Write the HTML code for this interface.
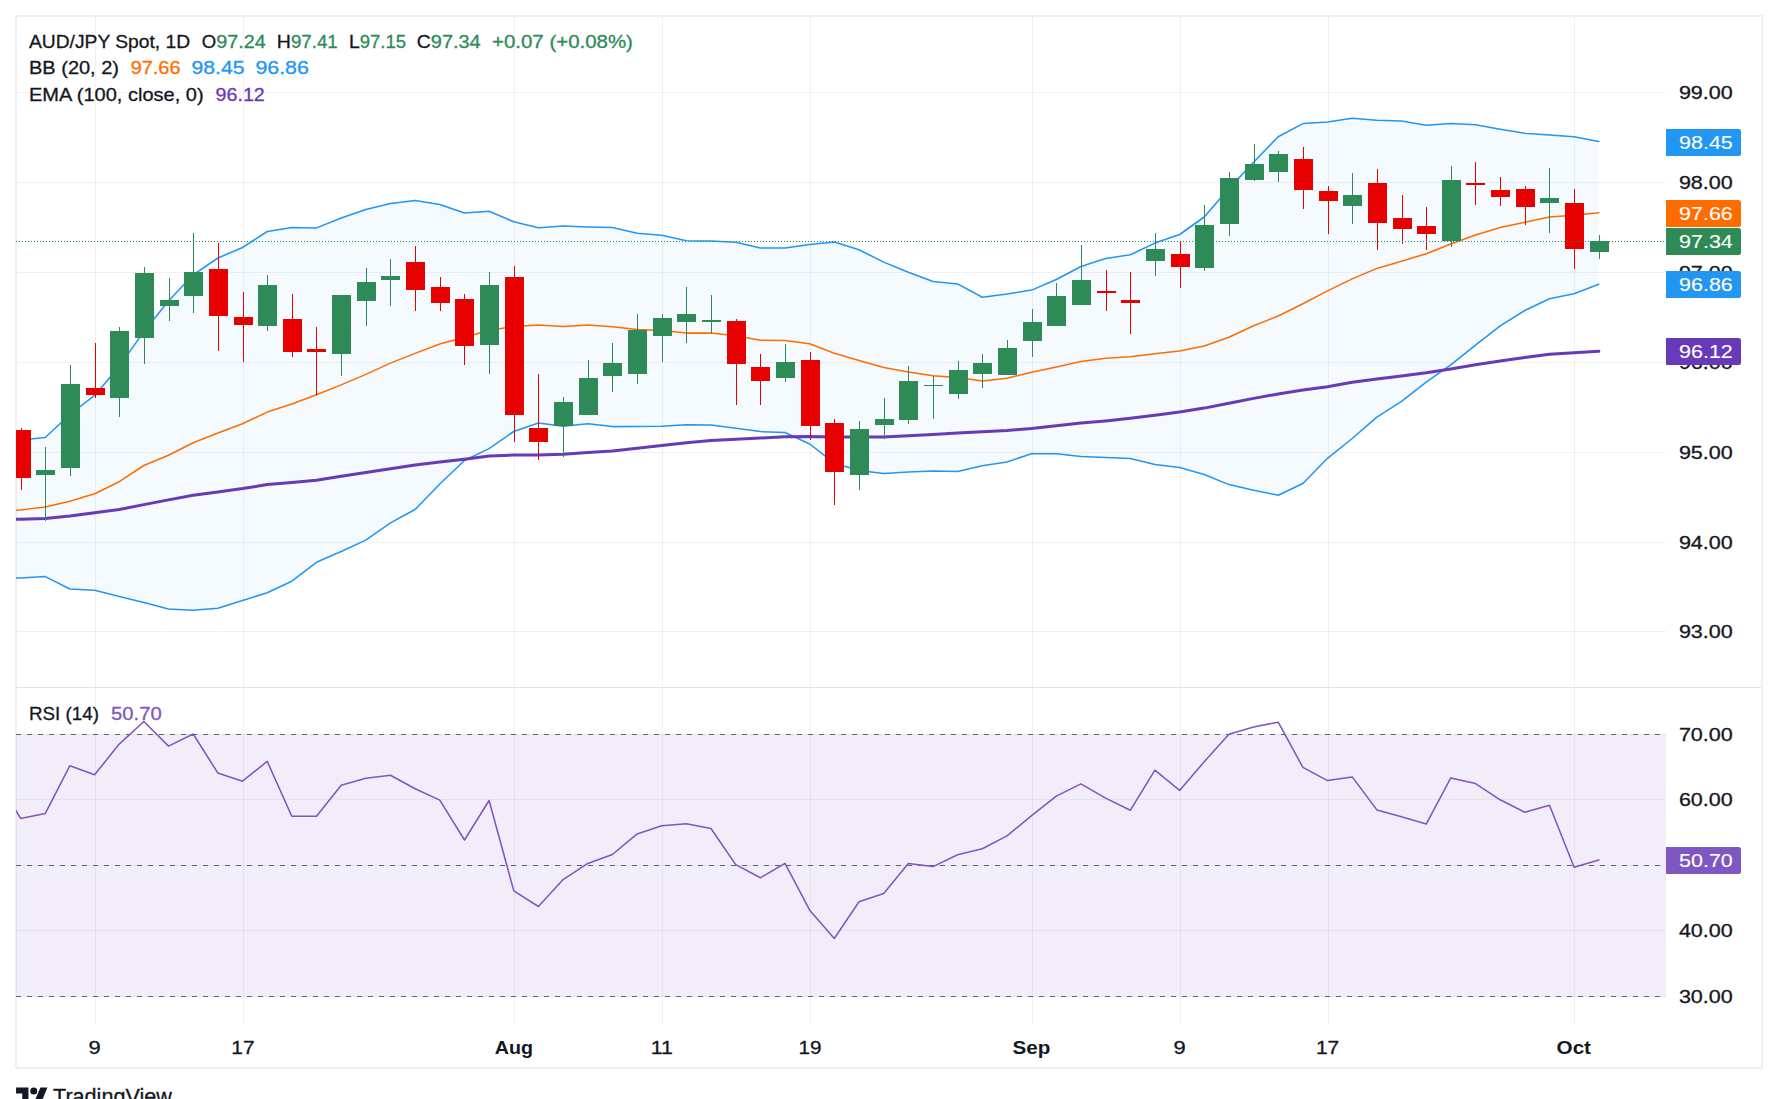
<!DOCTYPE html>
<html lang="en"><head><meta charset="utf-8"><title>AUD/JPY Spot, 1D</title>
<style>html,body{margin:0;padding:0;background:#fff;}body{width:1778px;height:1099px;overflow:hidden;}svg{display:block;}text{font-family:"Liberation Sans",sans-serif;}</style>
</head><body>
<svg width="1778" height="1099" viewBox="0 0 1778 1099">
<defs><clipPath id="cm"><rect x="16" y="17" width="1650" height="670"/></clipPath><clipPath id="cr"><rect x="16" y="688" width="1650" height="336"/></clipPath></defs>
<rect x="0" y="0" width="1778" height="1099" fill="#ffffff"/>
<rect x="16" y="16" width="1746" height="1052" fill="none" stroke="#eef0f6" stroke-width="2"/>
<g fill="#2a2e39" fill-opacity="0.065" shape-rendering="crispEdges">
<rect x="95" y="17" width="1" height="1007"/>
<rect x="243" y="17" width="1" height="1007"/>
<rect x="514" y="17" width="1" height="1007"/>
<rect x="662" y="17" width="1" height="1007"/>
<rect x="810" y="17" width="1" height="1007"/>
<rect x="1032" y="17" width="1" height="1007"/>
<rect x="1180" y="17" width="1" height="1007"/>
<rect x="1328" y="17" width="1" height="1007"/>
<rect x="1574" y="17" width="1" height="1007"/>
<rect x="16" y="92" width="1650" height="1"/>
<rect x="16" y="182" width="1650" height="1"/>
<rect x="16" y="272" width="1650" height="1"/>
<rect x="16" y="362" width="1650" height="1"/>
<rect x="16" y="452" width="1650" height="1"/>
<rect x="16" y="542" width="1650" height="1"/>
<rect x="16" y="631" width="1650" height="1"/>
<rect x="16" y="734" width="1650" height="1"/>
<rect x="16" y="799" width="1650" height="1"/>
<rect x="16" y="865" width="1650" height="1"/>
<rect x="16" y="930" width="1650" height="1"/>
<rect x="16" y="996" width="1650" height="1"/>
</g>
<g clip-path="url(#cm)">
<polygon points="-4.1,442.5 20.6,440.0 45.2,437.5 69.9,414.5 94.6,395.4 119.2,366.6 143.9,331.4 168.5,301.0 193.2,274.8 217.9,258.0 242.5,247.5 267.2,231.5 291.8,227.4 316.5,227.9 341.2,218.0 365.8,209.4 390.5,203.6 415.1,200.4 439.8,204.5 464.5,213.0 489.1,211.2 513.8,221.8 538.4,227.7 563.1,226.1 587.8,227.0 612.4,227.4 637.1,233.3 661.7,235.2 686.4,240.8 711.0,241.0 735.7,242.3 760.4,247.9 785.0,247.9 809.7,244.6 834.3,241.9 859.0,249.7 883.7,262.1 908.3,272.2 933.0,281.4 957.6,283.9 982.3,297.3 1007.0,294.0 1031.6,290.1 1056.3,279.5 1080.9,266.5 1105.6,258.6 1130.3,254.8 1154.9,243.1 1179.6,234.5 1204.2,217.0 1228.9,188.6 1253.6,162.3 1278.2,136.7 1302.9,123.6 1327.5,122.0 1352.2,118.2 1376.9,120.3 1401.5,121.0 1426.2,125.2 1450.8,123.4 1475.5,124.7 1500.2,129.2 1524.8,133.3 1549.5,134.9 1574.1,136.7 1598.8,141.4 1598.8,284.3 1574.1,293.8 1549.5,298.8 1524.8,310.5 1500.2,325.8 1475.5,345.1 1450.8,364.9 1426.2,382.2 1401.5,401.3 1376.9,417.1 1352.2,438.5 1327.5,458.3 1302.9,483.5 1278.2,495.2 1253.6,490.2 1228.9,484.6 1204.2,474.5 1179.6,467.5 1154.9,464.4 1130.3,458.5 1105.6,457.6 1080.9,456.5 1056.3,453.7 1031.6,453.7 1007.0,461.9 982.3,465.7 957.6,471.4 933.0,470.9 908.3,472.0 883.7,473.6 859.0,470.5 834.3,463.2 809.7,444.0 785.0,432.5 760.4,431.6 735.7,428.2 711.0,425.0 686.4,424.8 661.7,426.2 637.1,426.5 612.4,426.6 587.8,423.7 563.1,426.3 538.4,423.0 513.8,431.5 489.1,448.6 464.5,460.5 439.8,484.0 415.1,509.5 390.5,522.9 365.8,540.1 341.2,551.5 316.5,562.3 291.8,581.2 267.2,592.7 242.5,600.5 217.9,608.2 193.2,610.3 168.5,608.9 143.9,602.4 119.2,596.5 94.6,590.3 69.9,589.0 45.2,576.6 20.6,577.9 -4.1,578.5" fill="#2196f3" fill-opacity="0.05"/>
<polyline points="-4.1,442.5 20.6,440.0 45.2,437.5 69.9,414.5 94.6,395.4 119.2,366.6 143.9,331.4 168.5,301.0 193.2,274.8 217.9,258.0 242.5,247.5 267.2,231.5 291.8,227.4 316.5,227.9 341.2,218.0 365.8,209.4 390.5,203.6 415.1,200.4 439.8,204.5 464.5,213.0 489.1,211.2 513.8,221.8 538.4,227.7 563.1,226.1 587.8,227.0 612.4,227.4 637.1,233.3 661.7,235.2 686.4,240.8 711.0,241.0 735.7,242.3 760.4,247.9 785.0,247.9 809.7,244.6 834.3,241.9 859.0,249.7 883.7,262.1 908.3,272.2 933.0,281.4 957.6,283.9 982.3,297.3 1007.0,294.0 1031.6,290.1 1056.3,279.5 1080.9,266.5 1105.6,258.6 1130.3,254.8 1154.9,243.1 1179.6,234.5 1204.2,217.0 1228.9,188.6 1253.6,162.3 1278.2,136.7 1302.9,123.6 1327.5,122.0 1352.2,118.2 1376.9,120.3 1401.5,121.0 1426.2,125.2 1450.8,123.4 1475.5,124.7 1500.2,129.2 1524.8,133.3 1549.5,134.9 1574.1,136.7 1598.8,141.4" fill="none" stroke="#2196f3" stroke-width="1.55" stroke-linejoin="round" stroke-linecap="round"/>
<polyline points="-4.1,578.5 20.6,577.9 45.2,576.6 69.9,589.0 94.6,590.3 119.2,596.5 143.9,602.4 168.5,608.9 193.2,610.3 217.9,608.2 242.5,600.5 267.2,592.7 291.8,581.2 316.5,562.3 341.2,551.5 365.8,540.1 390.5,522.9 415.1,509.5 439.8,484.0 464.5,460.5 489.1,448.6 513.8,431.5 538.4,423.0 563.1,426.3 587.8,423.7 612.4,426.6 637.1,426.5 661.7,426.2 686.4,424.8 711.0,425.0 735.7,428.2 760.4,431.6 785.0,432.5 809.7,444.0 834.3,463.2 859.0,470.5 883.7,473.6 908.3,472.0 933.0,470.9 957.6,471.4 982.3,465.7 1007.0,461.9 1031.6,453.7 1056.3,453.7 1080.9,456.5 1105.6,457.6 1130.3,458.5 1154.9,464.4 1179.6,467.5 1204.2,474.5 1228.9,484.6 1253.6,490.2 1278.2,495.2 1302.9,483.5 1327.5,458.3 1352.2,438.5 1376.9,417.1 1401.5,401.3 1426.2,382.2 1450.8,364.9 1475.5,345.1 1500.2,325.8 1524.8,310.5 1549.5,298.8 1574.1,293.8 1598.8,284.3" fill="none" stroke="#2196f3" stroke-width="1.55" stroke-linejoin="round" stroke-linecap="round"/>
<polyline points="-4.1,511.0 20.6,510.0 45.2,506.9 69.9,501.3 94.6,493.7 119.2,481.7 143.9,465.5 168.5,455.3 193.2,442.7 217.9,433.0 242.5,423.8 267.2,412.1 291.8,404.1 316.5,394.8 341.2,384.9 365.8,374.4 390.5,363.1 415.1,353.4 439.8,344.0 464.5,337.2 489.1,330.5 513.8,326.4 538.4,325.1 563.1,326.4 587.8,325.1 612.4,326.7 637.1,329.6 661.7,330.6 686.4,333.1 711.0,333.0 735.7,335.7 760.4,340.2 785.0,340.4 809.7,343.8 834.3,353.2 859.0,360.4 883.7,367.6 908.3,371.9 933.0,375.7 957.6,377.5 982.3,381.1 1007.0,378.2 1031.6,372.2 1056.3,366.9 1080.9,361.5 1105.6,358.2 1130.3,356.8 1154.9,353.7 1179.6,351.0 1204.2,346.0 1228.9,337.2 1253.6,325.8 1278.2,316.0 1302.9,303.7 1327.5,290.9 1352.2,278.9 1376.9,268.4 1401.5,261.2 1426.2,253.7 1450.8,244.0 1475.5,235.0 1500.2,227.6 1524.8,222.2 1549.5,217.0 1574.1,215.2 1598.8,212.7" fill="none" stroke="#ff6d00" stroke-width="1.55" stroke-linejoin="round" stroke-linecap="round"/>
<polyline points="-4.1,519.6 20.6,519.2 45.2,518.4 69.9,516.0 94.6,512.8 119.2,509.5 143.9,504.6 168.5,499.9 193.2,495.2 217.9,491.9 242.5,488.6 267.2,484.6 291.8,482.6 316.5,480.2 341.2,476.2 365.8,472.5 390.5,468.7 415.1,465.0 439.8,461.9 464.5,459.2 489.1,456.0 513.8,455.1 538.4,454.9 563.1,454.2 587.8,452.4 612.4,451.0 637.1,448.3 661.7,445.5 686.4,442.7 711.0,440.5 735.7,439.2 760.4,438.0 785.0,436.8 809.7,436.4 834.3,436.9 859.0,436.9 883.7,436.9 908.3,435.8 933.0,434.6 957.6,433.1 982.3,431.7 1007.0,430.4 1031.6,428.4 1056.3,425.8 1080.9,423.1 1105.6,420.9 1130.3,418.2 1154.9,415.3 1179.6,411.9 1204.2,408.1 1228.9,403.3 1253.6,398.4 1278.2,393.9 1302.9,390.1 1327.5,386.7 1352.2,382.2 1376.9,379.0 1401.5,375.9 1426.2,372.8 1450.8,369.0 1475.5,364.7 1500.2,360.9 1524.8,357.5 1549.5,354.3 1574.1,352.8 1598.8,351.3" fill="none" stroke="#673ab7" stroke-width="3" stroke-linejoin="round" stroke-linecap="round"/>
<g shape-rendering="crispEdges">
<path fill="#e60000" d="M21 428h1V490h-1zM12 430h19V478h-19z"/>
<path fill="#2e8b57" d="M45 447h1V521h-1zM36 470h19V475h-19z"/>
<path fill="#2e8b57" d="M70 365h1V476h-1zM61 384h19V468h-19z"/>
<path fill="#e60000" d="M95 343h1V398h-1zM86 388h19V395h-19z"/>
<path fill="#2e8b57" d="M119 327h1V417h-1zM110 331h19V398h-19z"/>
<path fill="#2e8b57" d="M144 267h1V364h-1zM135 273h19V338h-19z"/>
<path fill="#2e8b57" d="M169 278h1V321h-1zM160 300h19V306h-19z"/>
<path fill="#2e8b57" d="M193 233h1V313h-1zM184 272h19V296h-19z"/>
<path fill="#e60000" d="M218 243h1V351h-1zM209 269h19V316h-19z"/>
<path fill="#e60000" d="M243 292h1V362h-1zM234 317h19V325h-19z"/>
<path fill="#2e8b57" d="M267 275h1V331h-1zM258 285h19V326h-19z"/>
<path fill="#e60000" d="M292 294h1V357h-1zM283 319h19V352h-19z"/>
<path fill="#e60000" d="M316 327h1V395h-1zM307 349h19V352h-19z"/>
<path fill="#2e8b57" d="M341 295h1V376h-1zM332 295h19V354h-19z"/>
<path fill="#2e8b57" d="M366 268h1V326h-1zM357 282h19V301h-19z"/>
<path fill="#2e8b57" d="M390 259h1V306h-1zM381 276h19V280h-19z"/>
<path fill="#e60000" d="M415 246h1V311h-1zM406 262h19V290h-19z"/>
<path fill="#e60000" d="M440 277h1V311h-1zM431 287h19V303h-19z"/>
<path fill="#e60000" d="M464 294h1V365h-1zM455 299h19V346h-19z"/>
<path fill="#2e8b57" d="M489 272h1V374h-1zM480 285h19V345h-19z"/>
<path fill="#e60000" d="M514 266h1V442h-1zM505 277h19V415h-19z"/>
<path fill="#e60000" d="M538 374h1V460h-1zM529 428h19V442h-19z"/>
<path fill="#2e8b57" d="M563 397h1V457h-1zM554 402h19V426h-19z"/>
<path fill="#2e8b57" d="M588 360h1V415h-1zM579 378h19V415h-19z"/>
<path fill="#2e8b57" d="M612 343h1V392h-1zM603 363h19V376h-19z"/>
<path fill="#2e8b57" d="M637 314h1V384h-1zM628 330h19V374h-19z"/>
<path fill="#2e8b57" d="M662 314h1V362h-1zM653 318h19V336h-19z"/>
<path fill="#2e8b57" d="M686 287h1V343h-1zM677 314h19V322h-19z"/>
<path fill="#2e8b57" d="M711 295h1V333h-1zM702 320h19V322h-19z"/>
<path fill="#e60000" d="M736 319h1V405h-1zM727 321h19V364h-19z"/>
<path fill="#e60000" d="M760 354h1V405h-1zM751 367h19V381h-19z"/>
<path fill="#2e8b57" d="M785 344h1V382h-1zM776 362h19V378h-19z"/>
<path fill="#e60000" d="M810 352h1V440h-1zM801 360h19V426h-19z"/>
<path fill="#e60000" d="M834 419h1V505h-1zM825 423h19V472h-19z"/>
<path fill="#2e8b57" d="M859 421h1V490h-1zM850 429h19V475h-19z"/>
<path fill="#2e8b57" d="M884 398h1V439h-1zM875 419h19V425h-19z"/>
<path fill="#2e8b57" d="M908 366h1V424h-1zM899 381h19V420h-19z"/>
<path fill="#2e8b57" d="M933 376h1V419h-1zM924 385h19V386h-19z"/>
<path fill="#2e8b57" d="M958 361h1V399h-1zM949 370h19V394h-19z"/>
<path fill="#2e8b57" d="M982 354h1V388h-1zM973 363h19V374h-19z"/>
<path fill="#2e8b57" d="M1007 340h1V375h-1zM998 348h19V375h-19z"/>
<path fill="#2e8b57" d="M1032 309h1V357h-1zM1023 322h19V341h-19z"/>
<path fill="#2e8b57" d="M1056 283h1V326h-1zM1047 296h19V326h-19z"/>
<path fill="#2e8b57" d="M1081 245h1V305h-1zM1072 280h19V305h-19z"/>
<path fill="#e60000" d="M1106 270h1V311h-1zM1097 291h19V293h-19z"/>
<path fill="#e60000" d="M1130 272h1V334h-1zM1121 300h19V303h-19z"/>
<path fill="#2e8b57" d="M1155 233h1V276h-1zM1146 249h19V261h-19z"/>
<path fill="#e60000" d="M1180 242h1V288h-1zM1171 254h19V267h-19z"/>
<path fill="#2e8b57" d="M1204 205h1V271h-1zM1195 225h19V268h-19z"/>
<path fill="#2e8b57" d="M1229 172h1V236h-1zM1220 178h19V224h-19z"/>
<path fill="#2e8b57" d="M1254 144h1V181h-1zM1245 164h19V180h-19z"/>
<path fill="#2e8b57" d="M1278 151h1V182h-1zM1269 154h19V172h-19z"/>
<path fill="#e60000" d="M1303 147h1V209h-1zM1294 159h19V190h-19z"/>
<path fill="#e60000" d="M1328 186h1V234h-1zM1319 191h19V201h-19z"/>
<path fill="#2e8b57" d="M1352 173h1V224h-1zM1343 195h19V206h-19z"/>
<path fill="#e60000" d="M1377 169h1V250h-1zM1368 183h19V223h-19z"/>
<path fill="#e60000" d="M1402 195h1V244h-1zM1393 218h19V229h-19z"/>
<path fill="#e60000" d="M1426 207h1V250h-1zM1417 226h19V234h-19z"/>
<path fill="#2e8b57" d="M1451 166h1V247h-1zM1442 180h19V241h-19z"/>
<path fill="#e60000" d="M1475 162h1V205h-1zM1466 183h19V185h-19z"/>
<path fill="#e60000" d="M1500 177h1V206h-1zM1491 190h19V197h-19z"/>
<path fill="#e60000" d="M1525 186h1V225h-1zM1516 189h19V207h-19z"/>
<path fill="#2e8b57" d="M1549 168h1V233h-1zM1540 198h19V203h-19z"/>
<path fill="#e60000" d="M1574 189h1V269h-1zM1565 203h19V249h-19z"/>
<path fill="#2e8b57" d="M1599 235h1V259h-1zM1590 241h19V252h-19z"/>
</g>
<line x1="16" y1="241.5" x2="1666" y2="241.5" stroke="#2e8b57" stroke-width="1" stroke-dasharray="1 2" shape-rendering="crispEdges"/>
</g>
<g clip-path="url(#cr)">
<rect x="16" y="734" width="1650" height="263" fill="#7e57c2" fill-opacity="0.1"/>
<g stroke="#5f626d" stroke-width="1" stroke-dasharray="5 6" shape-rendering="crispEdges">
<line x1="16" y1="734.5" x2="1666" y2="734.5"/>
<line x1="16" y1="865.5" x2="1666" y2="865.5"/>
<line x1="16" y1="996.5" x2="1666" y2="996.5"/>
</g>
<polyline points="-4.1,777.0 20.6,818.4 45.2,813.6 69.9,765.7 94.6,774.8 119.2,744.1 143.9,721.5 168.5,746.1 193.2,734.0 217.9,773.1 242.5,781.2 267.2,761.3 291.8,816.3 316.5,816.3 341.2,785.3 365.8,778.2 390.5,775.2 415.1,788.7 439.8,800.1 464.5,840.0 489.1,800.5 513.8,890.9 538.4,906.5 563.1,879.6 587.8,863.4 612.4,854.5 637.1,833.9 661.7,825.8 686.4,823.8 711.0,828.5 735.7,864.6 760.4,877.8 785.0,863.3 809.7,910.2 834.3,938.5 859.0,901.7 883.7,893.6 908.3,863.6 933.0,866.6 957.6,854.8 982.3,848.7 1007.0,835.9 1031.6,815.7 1056.3,796.1 1080.9,783.9 1105.6,798.1 1130.3,810.3 1154.9,770.2 1179.6,790.4 1204.2,761.7 1228.9,734.3 1253.6,726.9 1278.2,722.2 1302.9,767.4 1327.5,780.6 1352.2,776.9 1376.9,809.9 1401.5,816.7 1426.2,824.1 1450.8,777.9 1475.5,783.6 1500.2,799.8 1524.8,812.3 1549.5,805.2 1574.1,867.3 1598.8,859.9" fill="none" stroke="#7e57c2" stroke-width="1.55" stroke-linejoin="round" stroke-linecap="round"/>
</g>
<rect x="16" y="687" width="1745" height="1" fill="#e0e3eb"/>
<text x="1678.9" y="98.9" font-size="19.0" fill="#131722" stroke="#131722" stroke-width="0.3" textLength="53.9" lengthAdjust="spacingAndGlyphs">99.00</text>
<text x="1678.9" y="188.9" font-size="19.0" fill="#131722" stroke="#131722" stroke-width="0.3" textLength="53.9" lengthAdjust="spacingAndGlyphs">98.00</text>
<text x="1678.9" y="278.9" font-size="19.0" fill="#131722" stroke="#131722" stroke-width="0.3" textLength="53.9" lengthAdjust="spacingAndGlyphs">97.00</text>
<text x="1678.9" y="368.9" font-size="19.0" fill="#131722" stroke="#131722" stroke-width="0.3" textLength="53.9" lengthAdjust="spacingAndGlyphs">96.00</text>
<text x="1678.9" y="458.9" font-size="19.0" fill="#131722" stroke="#131722" stroke-width="0.3" textLength="53.9" lengthAdjust="spacingAndGlyphs">95.00</text>
<text x="1678.9" y="548.9" font-size="19.0" fill="#131722" stroke="#131722" stroke-width="0.3" textLength="53.9" lengthAdjust="spacingAndGlyphs">94.00</text>
<text x="1678.9" y="637.9" font-size="19.0" fill="#131722" stroke="#131722" stroke-width="0.3" textLength="53.9" lengthAdjust="spacingAndGlyphs">93.00</text>
<text x="1678.9" y="740.9" font-size="19.0" fill="#131722" stroke="#131722" stroke-width="0.3" textLength="53.9" lengthAdjust="spacingAndGlyphs">70.00</text>
<text x="1678.9" y="805.9" font-size="19.0" fill="#131722" stroke="#131722" stroke-width="0.3" textLength="53.9" lengthAdjust="spacingAndGlyphs">60.00</text>
<text x="1678.9" y="936.9" font-size="19.0" fill="#131722" stroke="#131722" stroke-width="0.3" textLength="53.9" lengthAdjust="spacingAndGlyphs">40.00</text>
<text x="1678.9" y="1002.9" font-size="19.0" fill="#131722" stroke="#131722" stroke-width="0.3" textLength="53.9" lengthAdjust="spacingAndGlyphs">30.00</text>
<path d="M1666 129H1738.5a2.5 2.5 0 0 1 2.5 2.5V153.5a2.5 2.5 0 0 1 -2.5 2.5H1666Z" fill="#2196f3"/>
<text x="1679.1" y="148.9" font-size="19.0" fill="#ffffff" stroke="#ffffff" stroke-width="0.12" textLength="53.7" lengthAdjust="spacingAndGlyphs">98.45</text>
<path d="M1666 200H1738.5a2.5 2.5 0 0 1 2.5 2.5V224.5a2.5 2.5 0 0 1 -2.5 2.5H1666Z" fill="#ff6d00"/>
<text x="1679.1" y="219.9" font-size="19.0" fill="#ffffff" stroke="#ffffff" stroke-width="0.12" textLength="53.7" lengthAdjust="spacingAndGlyphs">97.66</text>
<path d="M1666 228H1738.5a2.5 2.5 0 0 1 2.5 2.5V252.5a2.5 2.5 0 0 1 -2.5 2.5H1666Z" fill="#2e8b57"/>
<text x="1679.1" y="247.9" font-size="19.0" fill="#ffffff" stroke="#ffffff" stroke-width="0.12" textLength="53.7" lengthAdjust="spacingAndGlyphs">97.34</text>
<path d="M1666 271H1738.5a2.5 2.5 0 0 1 2.5 2.5V295.5a2.5 2.5 0 0 1 -2.5 2.5H1666Z" fill="#2196f3"/>
<text x="1679.1" y="290.9" font-size="19.0" fill="#ffffff" stroke="#ffffff" stroke-width="0.12" textLength="53.7" lengthAdjust="spacingAndGlyphs">96.86</text>
<path d="M1666 338H1738.5a2.5 2.5 0 0 1 2.5 2.5V362.5a2.5 2.5 0 0 1 -2.5 2.5H1666Z" fill="#673ab7"/>
<text x="1679.1" y="357.9" font-size="19.0" fill="#ffffff" stroke="#ffffff" stroke-width="0.12" textLength="53.7" lengthAdjust="spacingAndGlyphs">96.12</text>
<path d="M1666 847H1738.5a2.5 2.5 0 0 1 2.5 2.5V871.5a2.5 2.5 0 0 1 -2.5 2.5H1666Z" fill="#7e57c2"/>
<text x="1679.1" y="866.9" font-size="19.0" fill="#ffffff" stroke="#ffffff" stroke-width="0.12" textLength="53.7" lengthAdjust="spacingAndGlyphs">50.70</text>
<text x="88.4" y="1053.8" font-size="19.0" fill="#131722" stroke="#131722" stroke-width="0.3" textLength="12.2" lengthAdjust="spacingAndGlyphs">9</text>
<text x="231.3" y="1053.8" font-size="19.0" fill="#131722" stroke="#131722" stroke-width="0.3" textLength="23.3" lengthAdjust="spacingAndGlyphs">17</text>
<text x="494.8" y="1053.8" font-size="19.0" fill="#131722" font-weight="bold" textLength="38.2" lengthAdjust="spacingAndGlyphs">Aug</text>
<text x="650.7" y="1053.8" font-size="19.0" fill="#131722" stroke="#131722" stroke-width="0.3" textLength="22.2" lengthAdjust="spacingAndGlyphs">11</text>
<text x="798.5" y="1053.8" font-size="19.0" fill="#131722" stroke="#131722" stroke-width="0.3" textLength="23.0" lengthAdjust="spacingAndGlyphs">19</text>
<text x="1012.6" y="1053.8" font-size="19.0" fill="#131722" font-weight="bold" textLength="37.8" lengthAdjust="spacingAndGlyphs">Sep</text>
<text x="1173.5" y="1053.8" font-size="19.0" fill="#131722" stroke="#131722" stroke-width="0.3" textLength="12.2" lengthAdjust="spacingAndGlyphs">9</text>
<text x="1315.9" y="1053.8" font-size="19.0" fill="#131722" stroke="#131722" stroke-width="0.3" textLength="23.3" lengthAdjust="spacingAndGlyphs">17</text>
<text x="1556.6" y="1053.8" font-size="19.0" fill="#131722" font-weight="bold" textLength="34.4" lengthAdjust="spacingAndGlyphs">Oct</text>
<text x="29.0" y="47.9" font-size="19.0" fill="#131722" stroke="#131722" stroke-width="0.3" textLength="161.1" lengthAdjust="spacingAndGlyphs">AUD/JPY Spot, 1D</text>
<text x="201.8" y="47.9" font-size="19.0" fill="#131722" stroke="#131722" stroke-width="0.3" textLength="14.4" lengthAdjust="spacingAndGlyphs">O</text>
<text x="216.2" y="47.9" font-size="19.0" fill="#2e8b57" stroke="#2e8b57" stroke-width="0.3" textLength="49.5" lengthAdjust="spacingAndGlyphs">97.24</text>
<text x="276.8" y="47.9" font-size="19.0" fill="#131722" stroke="#131722" stroke-width="0.3" textLength="14.1" lengthAdjust="spacingAndGlyphs">H</text>
<text x="290.9" y="47.9" font-size="19.0" fill="#2e8b57" stroke="#2e8b57" stroke-width="0.3" textLength="46.8" lengthAdjust="spacingAndGlyphs">97.41</text>
<text x="348.9" y="47.9" font-size="19.0" fill="#131722" stroke="#131722" stroke-width="0.3" textLength="10.8" lengthAdjust="spacingAndGlyphs">L</text>
<text x="359.7" y="47.9" font-size="19.0" fill="#2e8b57" stroke="#2e8b57" stroke-width="0.3" textLength="46.4" lengthAdjust="spacingAndGlyphs">97.15</text>
<text x="416.8" y="47.9" font-size="19.0" fill="#131722" stroke="#131722" stroke-width="0.3" textLength="14.0" lengthAdjust="spacingAndGlyphs">C</text>
<text x="430.8" y="47.9" font-size="19.0" fill="#2e8b57" stroke="#2e8b57" stroke-width="0.3" textLength="49.9" lengthAdjust="spacingAndGlyphs">97.34</text>
<text x="492.0" y="47.9" font-size="19.0" fill="#2e8b57" stroke="#2e8b57" stroke-width="0.3" textLength="140.9" lengthAdjust="spacingAndGlyphs">+0.07 (+0.08%)</text>
<text x="29.0" y="74.2" font-size="19.0" fill="#131722" stroke="#131722" stroke-width="0.3" textLength="90.0" lengthAdjust="spacingAndGlyphs">BB (20, 2)</text>
<text x="130.7" y="74.2" font-size="19.0" fill="#ff6d00" stroke="#ff6d00" stroke-width="0.3" textLength="49.8" lengthAdjust="spacingAndGlyphs">97.66</text>
<text x="191.5" y="74.2" font-size="19.0" fill="#2196f3" stroke="#2196f3" stroke-width="0.3" textLength="53.1" lengthAdjust="spacingAndGlyphs">98.45</text>
<text x="255.4" y="74.2" font-size="19.0" fill="#2196f3" stroke="#2196f3" stroke-width="0.3" textLength="53.5" lengthAdjust="spacingAndGlyphs">96.86</text>
<text x="29.0" y="100.7" font-size="19.0" fill="#131722" stroke="#131722" stroke-width="0.3" textLength="174.6" lengthAdjust="spacingAndGlyphs">EMA (100, close, 0)</text>
<text x="215.6" y="100.7" font-size="19.0" fill="#673ab7" stroke="#673ab7" stroke-width="0.3" textLength="49.2" lengthAdjust="spacingAndGlyphs">96.12</text>
<text x="29.0" y="720.0" font-size="19.0" fill="#131722" stroke="#131722" stroke-width="0.3" textLength="69.9" lengthAdjust="spacingAndGlyphs">RSI (14)</text>
<text x="111.1" y="720.0" font-size="19.0" fill="#7e57c2" stroke="#7e57c2" stroke-width="0.3" textLength="50.6" lengthAdjust="spacingAndGlyphs">50.70</text>
<g transform="translate(16.05 1083.85) scale(0.885)" fill="#131722"><path d="M14 22H7V11H0V4h14v18zM28 22h-8l7.5-18h8L28 22z"/><circle cx="20" cy="8" r="4"/></g>
<text x="53.0" y="1104.4" font-size="21.4" fill="#131722" stroke="#131722" stroke-width="0.3" textLength="118.9" lengthAdjust="spacingAndGlyphs">TradingView</text>
</svg>
</body></html>
